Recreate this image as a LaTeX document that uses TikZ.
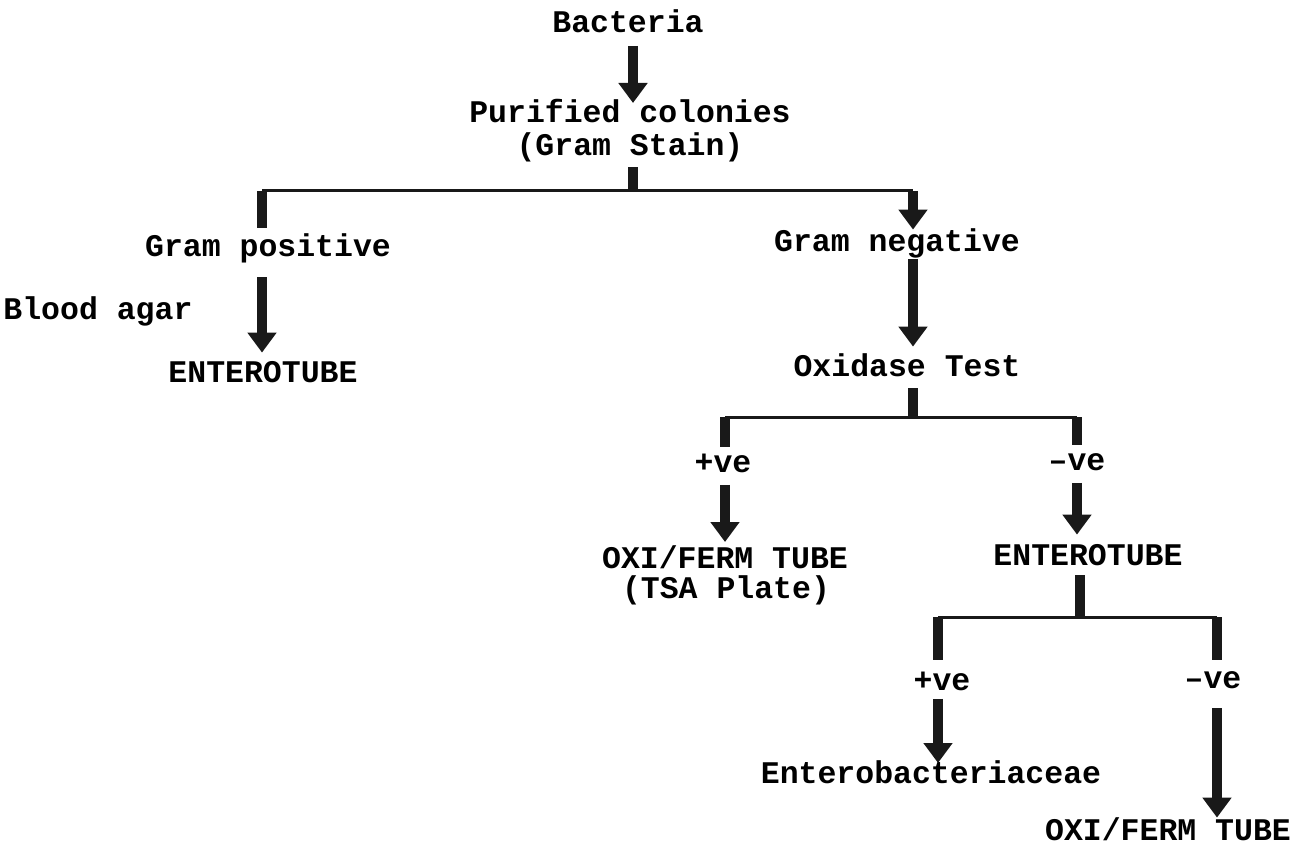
\documentclass[tikz,border=0pt]{standalone}
\usepackage{fontspec}
\newfontfamily\flowfont{Liberation Mono}
\usetikzlibrary{arrows.meta}

\tikzset{
  lbl/.style={font=\flowfont\bfseries\fontsize{15.75}{18}\selectfont,
    inner sep=0pt,text height=9.8pt,text depth=3.2pt,anchor=base},
  flow/.style={draw=black!90,line width=5pt,
    -{Triangle[width=14pt,length=10pt]},shorten <=3pt,shorten >=3pt},
  stem/.style={draw=black!90,line width=5pt},
  bar/.style={draw=black!90,line width=1.5pt},
}

\begin{document}
\begin{tikzpicture}[x=0.5pt,y=-0.5pt]
  \useasboundingbox (0,0) rectangle (1291,850);

  \node[lbl] (bact) at (628,33) {Bacteria};
  \node[lbl] (pur) at (630,123) {Purified colonies};
  \node[lbl] (gstain) at (630,156) {(Gram Stain)};
  \node[lbl] (gpos) at (268,257) {Gram positive};
  \node[lbl,anchor=base west] (blood) at (3,320) {Blood agar};
  \node[lbl] (entL) at (263,383) {ENTEROTUBE};
  \node[lbl] (gneg) at (897,252) {Gram negative};
  \node[lbl] (oxid) at (907,377) {Oxidase Test};
  \node[lbl] (posA) at (723,472) {+ve};
  \node[lbl] (negA) at (1077,470) {–ve};
  \node[lbl] (oxiA) at (725,568) {OXI/FERM TUBE};
  \node[lbl] (tsa) at (726,598) {(TSA Plate)};
  \node[lbl] (entR) at (1088,565) {ENTEROTUBE};
  \node[lbl] (posB) at (942,690) {+ve};
  \node[lbl] (negB) at (1213,688) {–ve};
  \node[lbl] (entero) at (931,783) {Enterobacteriaceae};
  \node[lbl] (oxiB) at (1168,840) {OXI/FERM TUBE};

  % branch points
  \coordinate (split1) at (633,191);
  \coordinate (b1l) at (262,191);
  \coordinate (b1r) at (913,191);
  \coordinate (split2) at (913,417);
  \coordinate (b2l) at (725,417);
  \coordinate (b2r) at (1077,417);
  \coordinate (split3) at (1080,617);
  \coordinate (b3l) at (938,617);
  \coordinate (b3r) at (1217,617);

  \draw[flow,shorten >=0pt] (bact.south -| split1) -- (pur.north -| split1);
  \draw[stem,shorten <=2.3pt] (gstain.south -| split1) -- (split1);
  \draw[bar] (b1l) -- (b1r);
  \draw[stem,shorten >=4.7pt] (b1l) -- (gpos.north -| b1l);
  \draw[flow,shorten <=0pt,shorten >=1.2pt] (b1r) -- (gneg.north -| b1r);
  \draw[flow,shorten <=6.8pt,shorten >=5.2pt] (gpos.south -| b1l) -- (entL.north -| b1l);
  \draw[flow,shorten <=0pt,shorten >=5.2pt] (gneg.south -| b1r) -- (oxid.north -| b1r);

  \draw[stem,shorten <=2.3pt] (oxid.south -| split2) -- (split2);
  \draw[bar] (b2l) -- (b2r);
  \draw[stem,shorten >=2.7pt] (b2l) -- (posA.north -| b2l);
  \draw[stem,shorten >=2.7pt] (b2r) -- (negA.north -| b2r);
  \draw[flow] (posA.south -| b2l) -- (oxiA.north -| b2l);
  \draw[flow,shorten >=5.2pt] (negA.south -| b2r) -- (entR.north -| b2r);

  \draw[stem,shorten <=1.8pt] (entR.south -| split3) -- (split3);
  \draw[bar] (b3l) -- (b3r);
  \draw[stem,shorten >=5.2pt] (b3l) -- (posB.north -| b3l);
  \draw[stem,shorten >=4.2pt] (b3r) -- (negB.north -| b3r);
  \draw[flow,shorten <=1pt,shorten >=0pt] (posB.south -| b3l) -- (entero.north -| b3l);
  \draw[flow,shorten <=6.8pt,shorten >=1.2pt] (negB.south -| b3r) -- (oxiB.north -| b3r);
\end{tikzpicture}
\end{document}
